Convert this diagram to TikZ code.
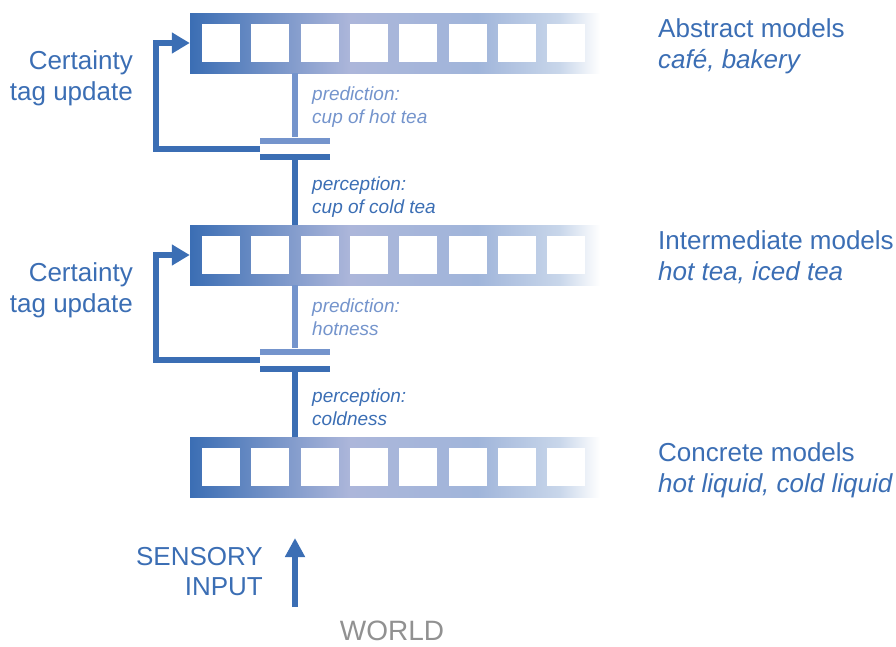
\documentclass[tikz,border=0pt]{standalone}
\usepackage{fontspec}
\setmainfont{Liberation Sans}
\usetikzlibrary{arrows.meta,calc}

\definecolor{tagblue}{RGB}{59,110,180}
\definecolor{predblue}{RGB}{116,148,204}
\definecolor{barlav}{RGB}{172,182,218}
\definecolor{barsoft}{RGB}{160,181,218}
\definecolor{barpale}{RGB}{200,214,234}
\definecolor{worldgray}{RGB}{145,145,145}

%% colour of a model layer runs from blue into white
\pgfdeclarehorizontalshading{modelfade}{100bp}{color(0bp)=(tagblue); color(25bp)=(tagblue); color(44.5bp)=(barlav); color(60bp)=(barsoft); color(70bp)=(barpale); color(75bp)=(white); color(100bp)=(white)}

\begin{document}
\begin{tikzpicture}[x=1pt, y=-1pt,
  modelbar/.style={shade, shading=modelfade, minimum width=410pt, minimum height=60pt, inner sep=0pt},
  plate/.style={fill=tagblue, minimum width=70pt, minimum height=6pt, inner sep=0pt},
  predplate/.style={plate, fill=predblue},
  link/.style={line width=6pt, draw=tagblue},
  predlink/.style={link, draw=predblue},
  tagloop/.style={line width=6pt, draw=tagblue, -{Triangle[length=18pt,width=20pt]}},
  big/.style={font=\fontsize{26}{31}\selectfont, text=tagblue, inner sep=0pt},
  small/.style={font=\fontsize{19}{23}\selectfont\itshape, inner sep=0pt, align=left, anchor=base west}]

  \useasboundingbox (0,0) rectangle (896,646);

  %% the three layers of models, eight cells each
  \foreach \name/\y in {abstract/43, inter/255, concrete/467}{
    \node[modelbar] (\name) at (395,\y) {};
    \foreach \i in {0,...,7}
      \fill[white] (221+\i*49.3,\y) +(-19,-19) rectangle +(19,19);
  }

  \node[big, align=left, anchor=north west] (abstractlbl) at (658,18) {Abstract models\\\textit{café, bakery}};
  \node[big, align=left, anchor=north west] (interlbl) at (658,230) {Intermediate models\\\textit{hot tea, iced tea}};
  \node[big, align=left, anchor=north west] (concretelbl) at (658,442) {Concrete models\\\textit{hot liquid, cold liquid}};

  %% prediction meets perception between two layers
  \node[predplate] (predA) at (295,140.5) {};
  \node[plate] (percA) at (295,157) {};
  \node[predplate] (predB) at (295,351.5) {};
  \node[plate] (percB) at (295,368.5) {};

  \draw[predlink] (abstract.south -| predA) -- (predA.north);
  \draw[link] (percA.south) -- (percA.south |- inter.north);
  \draw[predlink] (inter.south -| predB) -- (predB.north);
  \draw[link] (percB.south) -- (percB.south |- concrete.north);

  %% base is the last line here
  \node[small, text=predblue] (predAlbl) at (312,123) {prediction:\\cup of hot tea};
  \node[small, text=tagblue] (percAlbl) at (312,213) {perception:\\cup of cold tea};
  \node[small, text=predblue] (predBlbl) at (312,335) {prediction:\\hotness};
  \node[small, text=tagblue] (percBlbl) at (312,425) {perception:\\coldness};

  %% certainty tags fed back to the layer above
  \draw[tagloop] ($(predA.south west)!.5!(percA.north west)$) -| ([xshift=-33.5pt]abstract.west) -- (abstract.west);
  \draw[tagloop] ($(predB.south west)!.5!(percB.north west)$) -| ([xshift=-33.5pt]inter.west) -- (inter.west);

  \node[big, align=right, anchor=north east] (tagA) at (133,50) {Certainty\\tag update};
  \node[big, align=right, anchor=north east] (tagB) at (133,262) {Certainty\\tag update};

  %% input from below
  \coordinate (sensebase) at (295,607);
  \coordinate (sensetip) at (295,538);
  \draw[line width=6pt, draw=tagblue, -{Triangle[length=19pt,width=19pt]}] (sensebase) -- (sensetip);
  \node[big, align=right, anchor=north east, font=\fontsize{26}{30}\selectfont] (sensory) at (263,547) {SENSORY\\INPUT};
  \node[big, text=worldgray, font=\fontsize{28}{30}\selectfont] (world) at (392,631) {WORLD};
\end{tikzpicture}
\end{document}
